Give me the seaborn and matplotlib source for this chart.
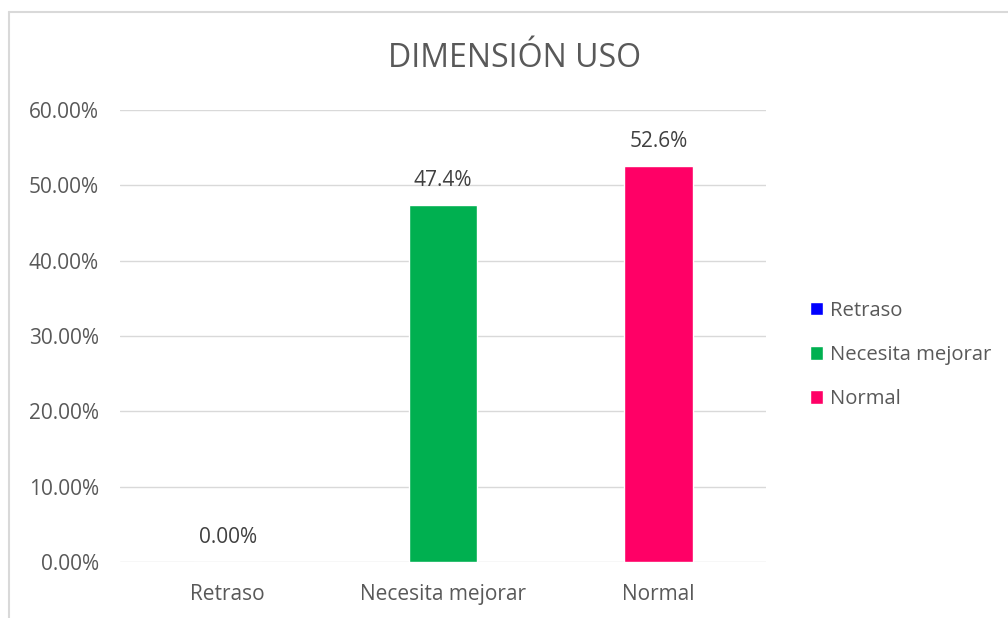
import pandas as pd
import numpy as np
import matplotlib.pyplot as plt
import seaborn as sns
from matplotlib.lines import Line2D
from matplotlib.ticker import PercentFormatter

categories = ['Retraso', 'Necesita mejorar', 'Normal']
values = [0.0, 47.4, 52.6]
value_labels = ['0.00%', '47.4%', '52.6%']
colors = ['#0000FF', '#00B050', '#FF0066']

df = pd.DataFrame({'categoria': categories, 'valor': values})

sns.set_theme(style='white')
plt.rcParams['font.family'] = ['Open Sans', 'DejaVu Sans']
text_color = '#595959'

fig = plt.figure(figsize=(10.08, 6.18), dpi=100)
ax = fig.add_axes([0.119, 0.0906, 0.641, 0.7314])

sns.barplot(data=df, x='categoria', y='valor', hue='categoria',
            palette=dict(zip(categories, colors)), width=0.32,
            saturation=1, legend=True, ax=ax)

for container, lab in zip(ax.containers, value_labels):
    ax.bar_label(container, labels=[lab], padding=10, fontsize=15, color='#404040')

ax.set_ylim(0, 60)
ax.set_yticks(np.arange(0, 61, 10))
ax.yaxis.set_major_formatter(PercentFormatter(decimals=2))
ax.grid(axis='y', color='#d9d9d9', linewidth=1)
ax.set_axisbelow(True)
for s in ax.spines.values():
    s.set_visible(False)
ax.tick_params(axis='both', length=0, labelsize=15, colors=text_color)
ax.tick_params(axis='y', pad=15)
ax.tick_params(axis='x', pad=16)
ax.set_xlabel('')
ax.set_ylabel('')

leg = ax.legend(loc='center left', bbox_to_anchor=(1.04, 0.458), frameon=False,
                fontsize=14.6, handlelength=0.65, handleheight=0.65,
                handletextpad=0.35, labelspacing=1.2)
for t in leg.get_texts():
    t.set_color(text_color)

fig.text(0.51, 0.905, 'DIMENSIÓN USO', ha='center', va='center',
         fontsize=23, color=text_color)

# marco del gráfico (solo borde izquierdo y superior visibles)
fig.add_artist(Line2D([9 / 1008, 9 / 1008], [0, 1 - 12 / 618], color='#d9d9d9', lw=1.5))
fig.add_artist(Line2D([9 / 1008, 1], [1 - 12 / 618, 1 - 12 / 618], color='#d9d9d9', lw=1.5))

fig.savefig('out.png', dpi=100, facecolor='white')
